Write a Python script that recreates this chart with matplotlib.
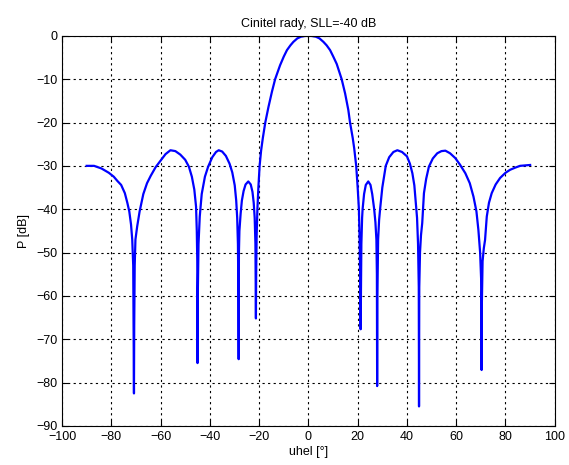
import matplotlib
matplotlib.use('Agg')
import matplotlib.pyplot as plt
import numpy as np

# vyzarovaci diagram rady, hodnoty po lalocich (uhel [deg], P [dB])
uhel_levy = [-90, -87, -84, -81, -79, -77.5, -76, -74.5, -73.5, -72.7, -72.0,
             -71.5, -71.1, -70.8, -70.7, -70.5, -70.2,
             -69.5, -68.5, -67, -65.5, -64, -62, -60, -58, -56, -54, -52, -50,
             -48.5, -47.3, -46.3, -45.6, -45.3, -45.1, -45.0, -44.9, -44.6,
             -44.1, -43.3, -42, -40.7, -39, -37.5, -36.4, -35, -33.5, -32,
             -30.9, -29.9, -29.3, -28.9, -28.6, -28.4, -28.3, -28.2, -28.0,
             -27.5, -27.0, -26.3, -25.5, -24.4, -23.4, -22.7, -22.2, -21.8,
             -21.5, -21.3, -21.2, -21.0, -20.7, -20.3, -19.8, -19.2]
p_levy = [-30.0, -30.0, -30.6, -31.6, -32.5, -33.5, -34.4, -36.3, -38.5, -40.5, -43.5,
          -47, -53, -82.5, -67, -53, -47,
          -44, -40.5, -36.5, -34, -32.3, -30.3, -28.8, -27.3, -26.4, -26.6, -27.4, -28.6,
          -30.2, -32.5, -35.5, -39.4, -45, -52, -75.5, -60, -48,
          -41.7, -36.5, -32.5, -30.2, -28, -26.8, -26.4, -26.7, -27.7, -29.5,
          -31.5, -34.5, -38, -42, -48, -60, -74.6, -50, -45,
          -41, -38, -35.8, -34.3, -33.6, -34.3, -36, -38.5, -42,
          -48, -65.2, -55, -46, -40, -35, -30, -26.5]

uhel_hlavni = [-18.5, -17.5, -16.2, -14.8, -13.5, -11.5, -10, -8.7, -7.3, -6.1,
               -4.5, -3.0, -1.5, 0, 1.5, 3, 4.5, 6.1, 7.4, 8.8, 10.1, 11.5,
               13.5, 14.9, 16.2, 16.9, 18.0]
p_hlavni = [-23.6, -20, -16.4, -12.9, -10, -6.8, -4.8, -3.3, -2.2, -1.4,
            -0.6, -0.2, -0.05, 0, -0.05, -0.2, -0.6, -1.4, -2.2, -3.3, -4.8, -6.5,
            -10, -13.3, -17.1, -20, -23.6]

uhel_pravy = [18.6, 19.4, 20.0, 20.5, 20.8, 21.0, 21.2, 21.3, 21.5, 21.8,
              22.0, 22.6, 23.3, 24.3, 25.2, 25.9, 26.7, 27.2, 27.6, 27.8, 27.9,
              28.0, 28.3, 28.7, 29.1, 30.0, 31.4, 32.8, 34.5, 36.1, 38, 40, 41.2,
              42.2, 43.0, 43.5, 44.1, 44.5, 44.8, 44.9, 45.0, 45.3, 45.7, 46.2,
              46.9, 47.8, 48.9, 50.5, 52.3, 54, 55.6, 57.5, 59.6, 61.5, 63.7,
              65.5, 67.0, 68.2, 69.0, 69.7, 70.1, 70.3, 70.4, 70.7, 71.2, 71.7,
              72.4, 73.3, 74.4, 76, 77.8, 80, 81.9, 84, 85.9, 88, 90]
p_pravy = [-26, -30, -35, -40, -47, -55, -67.7, -60, -48, -42,
           -40, -36.5, -34.4, -33.6, -34.4, -36.5, -40, -43, -47, -55, -80.8,
           -60, -47, -42.5, -40, -35, -30, -28, -26.8, -26.4, -26.8, -27.8, -29.5,
           -31.7, -34.5, -37.8, -42, -48, -58, -85.5, -58, -50, -46, -43.2,
           -36.3, -33, -30.2, -28.3, -27.1, -26.6, -26.5, -27.1, -28.2, -29.7, -31.7,
           -34, -37.1, -40.5, -44.8, -50, -56, -77.1, -62, -52, -49, -47.1,
           -41.7, -38.5, -36.3, -34.3, -32.8, -31.6, -30.9, -30.4, -30.0, -29.9, -29.8]

uhel = np.array(uhel_levy + uhel_hlavni + uhel_pravy)
p_db = np.array(p_levy + p_hlavni + p_pravy)

plt.rcParams['font.family'] = ['Liberation Sans', 'DejaVu Sans']

fig = plt.figure(figsize=(5.69, 4.65), dpi=100)
ax = fig.add_axes([0.109, 0.084, 0.866, 0.839])

ax.plot(uhel, p_db, color=(0, 0, 1), linewidth=1.6)

ax.set_xlim(-100, 100)
ax.set_ylim(-90, 0)
ax.set_xticks(np.arange(-100, 101, 20))
ax.set_yticks(np.arange(-90, 1, 10))
ax.grid(True, color='black', linestyle=(0, (2, 3)), linewidth=0.8)
ax.tick_params(direction='in', top=True, right=True, labelsize=9, length=4)

ax.set_title('Cinitel rady, SLL=-40 dB', fontsize=9)
ax.set_xlabel('uhel [°]', fontsize=9, labelpad=2)
ax.set_ylabel('P [dB]', fontsize=9)

fig.savefig('out.png', dpi=100)
